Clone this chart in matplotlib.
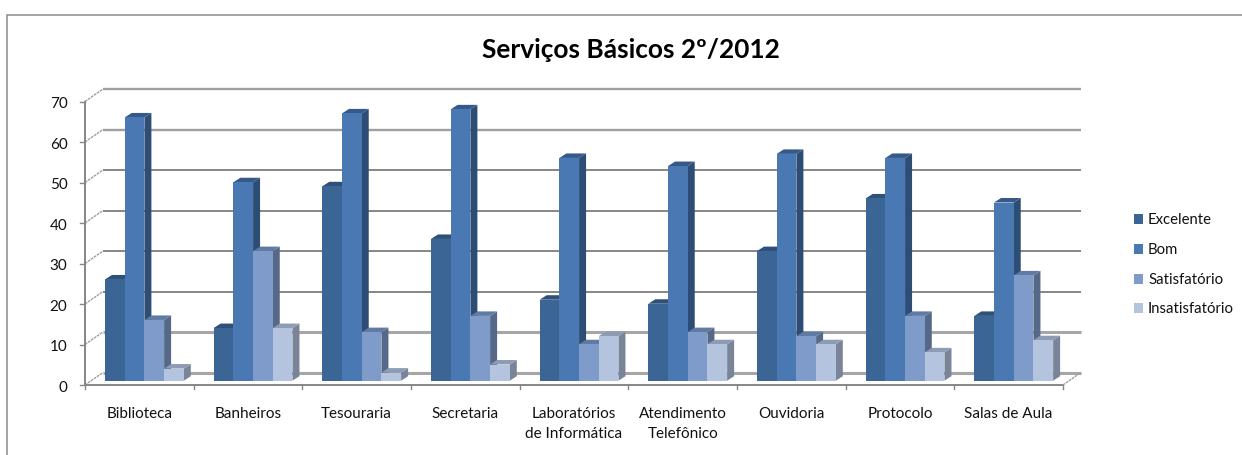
import matplotlib
matplotlib.use("Agg")
import matplotlib.pyplot as plt
from matplotlib.patches import Polygon, Rectangle

categories = ["Biblioteca", "Banheiros", "Tesouraria", "Secretaria",
              "Laboratórios\nde Informática", "Atendimento\nTelefônico",
              "Ouvidoria", "Protocolo", "Salas de Aula"]
excelente = [25, 13, 48, 35, 20, 19, 32, 45, 16]
bom = [65, 49, 66, 67, 55, 53, 56, 55, 44]
satisfatorio = [15, 32, 12, 16, 9, 12, 11, 16, 26]
insatisfatorio = [3, 13, 2, 4, 11, 9, 9, 7, 10]
series_names = ["Excelente", "Bom", "Satisfatório", "Insatisfatório"]
yticks = [0, 10, 20, 30, 40, 50, 60, 70]
title = "Serviços Básicos 2º/2012"

series = [excelente, bom, satisfatorio, insatisfatorio]
front = ["#3B6595", "#4A78B2", "#7E9BC9", "#B4C3DE"]
side = ["#2C4C72", "#2E4D74", "#566888", "#7A8498"]
top = ["#2F5078", "#35598A", "#5F7AA3", "#8E9BB4"]

W, H = 1242, 456
plt.rcParams['font.family'] = ['Lato', 'DejaVu Sans']
fig = plt.figure(figsize=(W / 100, H / 100), dpi=100)
L, R, B, T = 85, 1063, 386, 102.5
ax = fig.add_axes([L / W, 1 - B / H, (R - L) / W, (B - T) / H])
ax.set_xlim(0, 9)
ax.set_ylim(0, 70)
ax.axis("off")

ux = (R - L) / 9        # px per category
uy = (B - T) / 70       # px per value unit
wall_dx, wall_dy = 18 / ux, 12.5 / uy
bar_dx, bar_dy = 7 / ux, 4.5 / uy
base = 4.3 / uy
bar_w = 19.7 / ux
first = 20 / ux
GRID = "#868686"
TEXT = "#111111"

# outer frame
fig.add_artist(Rectangle((7 / W, -0.01), 1.1, 1 - 15.5 / H + 0.01, transform=fig.transFigure,
                         fill=False, ec="#8A8A8A", lw=1.1))

# back wall gridlines
for v in yticks:
    if v in (0, 10):
        lw, col = 2.2, "#A6A6A6"
    elif v in (60, 70):
        lw, col = 1.7, "#A0A0A0"
    else:
        lw, col = 1.4, GRID
    ax.plot([wall_dx, 9 + wall_dx], [v + wall_dy] * 2, color=col, lw=lw,
            clip_on=False, solid_capstyle="butt", zorder=1)
    ax.plot([0, wall_dx], [v, v + wall_dy], color="#A0A0A0", lw=1.0, ls=(0, (2, 0.6)),
            clip_on=False, zorder=1)
# axes
ax.plot([0, 0], [0, 70], color=GRID, lw=1.4, clip_on=False, zorder=2)
ax.plot([0, 9], [0, 0], color=GRID, lw=1.4, clip_on=False, zorder=2)
ax.plot([9, 9 + wall_dx], [0, wall_dy], color="#A0A0A0", lw=1.0, ls=(0, (2, 0.6)), clip_on=False, zorder=2)
for i in range(10):
    ax.plot([i, i], [0, -4 / uy], color=GRID, lw=1.0, clip_on=False, zorder=2)
for v in yticks:
    ax.plot([-5 / ux, 0], [v, v], color=GRID, lw=1.0, clip_on=False, zorder=2)
    ax.text(-17.5 / ux, v - 1.8 / uy, str(v), ha="right", va="center", fontsize=11, color=TEXT)

# bars, drawn left to right so each one overlaps the side of the previous
z = 3
for c in range(len(categories)):
    for s, vals in enumerate(series):
        v = vals[c]
        x0 = c + first + s * bar_w
        x1 = x0 + bar_w
        y1 = base + v
        ax.add_patch(Polygon([(x1, base), (x1 + bar_dx, base + bar_dy),
                              (x1 + bar_dx, y1 + bar_dy), (x1, y1)],
                             fc=side[s], ec="none", clip_on=False, zorder=z))
        ax.add_patch(Polygon([(x0, y1), (x0 + bar_dx, y1 + bar_dy),
                              (x1 + bar_dx, y1 + bar_dy), (x1, y1)],
                             fc=top[s], ec="none", clip_on=False, zorder=z))
        ax.bar(x0, v, width=bar_w, bottom=base, align="edge", color=front[s],
               clip_on=False, zorder=z + 0.5)
        z += 1

for i, name in enumerate(categories):
    ax.text(i + 0.5, -21.5 / uy, name, ha="center", va="top", fontsize=11,
            color=TEXT, linespacing=1.5)

fig.text(630.5 / W, 1 - 50 / H, title, ha="center", va="center", fontsize=18.9, fontweight="bold", color="black")

# legend
legend_y = [220, 250, 280, 309]
for name, col, y in zip(series_names, front, legend_y):
    fig.add_artist(Rectangle((1134 / W, 1 - (y + 5) / H), 9 / W, 10 / H, transform=fig.transFigure,
                             fc=col, ec="none"))
    fig.text(1148 / W, 1 - y / H, name, ha="left", va="center", fontsize=10.7, color=TEXT)

fig.savefig("out.png", dpi=100)
